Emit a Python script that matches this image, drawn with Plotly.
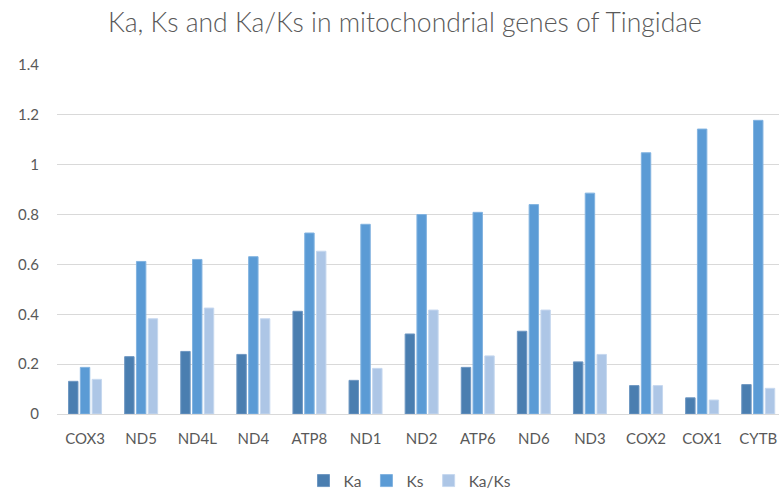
import plotly.graph_objects as go

genes = ["COX3", "ND5", "ND4L", "ND4", "ATP8", "ND1", "ND2", "ATP6", "ND6", "ND3", "COX2", "COX1", "CYTB"]
ka = [0.131, 0.230, 0.251, 0.239, 0.412, 0.135, 0.321, 0.187, 0.332, 0.209, 0.114, 0.065, 0.118]
ks = [0.187, 0.612, 0.620, 0.631, 0.726, 0.761, 0.800, 0.809, 0.840, 0.886, 1.048, 1.143, 1.178]
ka_ks = [0.139, 0.382, 0.425, 0.382, 0.653, 0.183, 0.417, 0.233, 0.417, 0.239, 0.114, 0.056, 0.103]

series = [("Ka", ka, "#4a7eb0", "#6e97c2"),
          ("Ks", ks, "#5b9bd5", "#82b3e0"),
          ("Ka/Ks", ka_ks, "#adc6e6", "#c6d8ef")]

fig = go.Figure()
for name, vals, col, lcol in series:
    fig.add_trace(go.Bar(x=genes, y=vals, name=name,
                         marker=dict(color=col, line=dict(color=lcol, width=1))))

fig.update_layout(
    width=779, height=490,
    paper_bgcolor="white", plot_bgcolor="white",
    margin=dict(l=57, r=0, t=65, b=76, autoexpand=False),
    barmode="group", bargap=0.37, bargroupgap=0.2,
    title=dict(text="Ka, Ks and Ka/Ks in mitochondrial genes of Tingidae",
               x=405 / 779, xref="container", xanchor="center",
               y=1 - 23 / 490, yref="container", yanchor="middle",
               font=dict(family="Lato", size=26.5, color="#595959", weight=300)),
    font=dict(family="Lato", color="#595959"),
    legend=dict(orientation="h", x=(410 - 57) / 722, xref="paper", xanchor="center",
                y=-(481 - 414) / 349, yref="paper", yanchor="middle",
                font=dict(size=15.5, color="#595959"), itemwidth=30,
                tracegroupgap=0, traceorder="normal"),
    showlegend=True,
)
fig.update_xaxes(range=[-0.5, 12.37], showgrid=False, showline=False, ticks="",
                 automargin=False, ticklabelstandoff=14,
                 tickfont=dict(size=15, color="#595959"))
fig.update_yaxes(range=[0, 1.4], tickvals=[0, 0.2, 0.4, 0.6, 0.8, 1, 1.2, 1.4],
                 ticktext=["0", "0.2", "0.4", "0.6", "0.8", "1", "1.2", "1.4"],
                 showgrid=True, gridcolor="#d9d9d9", gridwidth=1,
                 zeroline=True, zerolinecolor="#d9d9d9", zerolinewidth=1,
                 ticks="", ticklabelstandoff=17, automargin=False,
                 tickfont=dict(size=15, color="#595959"))

fig.write_html("out.html", config={"displayModeBar": False},
               post_script="document.body.style.margin='0';")
